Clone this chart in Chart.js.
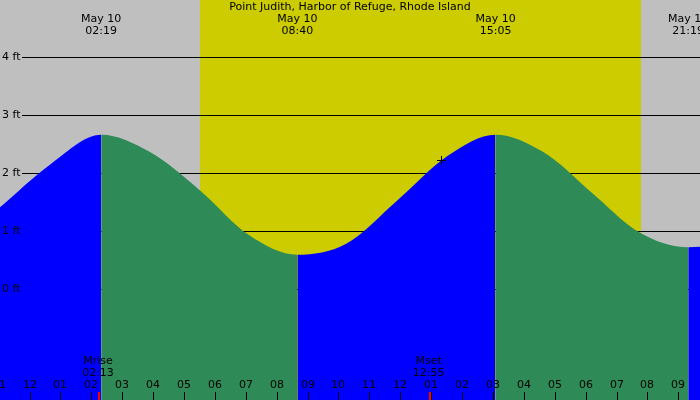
<!DOCTYPE html>
<html><head><meta charset="utf-8">
<script src="https://cdn.jsdelivr.net/npm/chart.js@4"></script>
<style>html,body{margin:0;padding:0;background:#bfbfbf}#w{width:700px;height:400px}</style>
</head><body><div id="w"><canvas id="c"></canvas></div>
<script>
const hours = [-0.955, 0.65, 2.32, 3.9, 5.52, 7.1, 8.67, 10.25, 11.85, 13.55, 15.08, 16.63, 18.18, 19.73, 21.32, 21.7];
const heights = [1.41, 2.14, 2.66, 2.36, 1.70, 0.93, 0.59, 0.78, 1.50, 2.30, 2.66, 2.36, 1.67, 0.98, 0.72, 0.73];
const tideTimes = [2.317, 8.667, 15.083, 21.317];
const tideLabels = ["02:19", "08:40", "15:05", "21:19"];
const tideDates = ["May 10", "May 10", "May 10", "May 10"];
const tickHours = [-1,0,1,2,3,4,5,6,7,8,9,10,11,12,13,14,15,16,17,18,19,20,21];
const tickLabels = ["11","12","01","02","03","04","05","06","07","08","09","10","11","12","01","02","03","04","05","06","07","08","09"];
const ftLevels = [0,1,2,3,4];
const sunrise = 5.52, sunset = 19.79;
const moonEvents = [{name:"Mrise", time:"02:13", h:2.217},{name:"Mset", time:"12:55", h:12.917}];
const title = "Point Judith, Harbor of Refuge, Rhode Island";

const FONT = '11px "DejaVu Sans", sans-serif';
const bg = {
  id:'bg',
  beforeDatasetsDraw(ch){
    const {ctx, chartArea:a, scales:{x,y}} = ch;
    ctx.save();
    ctx.fillStyle='#bfbfbf'; ctx.fillRect(0,0,ch.width,ch.height);
    const x1=x.getPixelForValue(sunrise), x2=x.getPixelForValue(sunset);
    ctx.fillStyle='#cccc00'; ctx.fillRect(x1,0,x2-x1,ch.height);
    ctx.strokeStyle='#000'; ctx.lineWidth=1;
    ftLevels.forEach(v=>{const py=Math.round(y.getPixelForValue(v))+0.5;ctx.beginPath();ctx.moveTo(22,py);ctx.lineTo(ch.width,py);ctx.stroke();});
    ctx.restore();
  },
  afterDatasetsDraw(ch){
    const {ctx, scales:{x,y}} = ch;
    ctx.save();
    ctx.fillStyle='#000'; ctx.font=FONT; ctx.textBaseline='middle';
    ctx.textAlign='left';
    ftLevels.forEach(v=>ctx.fillText(v+' ft',2,y.getPixelForValue(v)));
    ctx.textAlign='center';
    ctx.fillText(title,350,7);
    tideTimes.forEach((t,i)=>{const px=x.getPixelForValue(t);ctx.fillText(tideDates[i],px,19);ctx.fillText(tideLabels[i],px,31);});
    tickHours.forEach((h,i)=>{const px=Math.round(x.getPixelForValue(h));ctx.fillText(tickLabels[i],px,385);
      ctx.fillRect(px,392,1,8);});
    moonEvents.forEach(m=>{const px=x.getPixelForValue(m.h);ctx.fillStyle='#000';ctx.fillText(m.name,px,361);ctx.fillText(m.time,px,373);
      ctx.fillStyle='#ff0000';ctx.fillRect(Math.round(px),392,2,8);ctx.fillStyle='#000';});
    const cx=441, cy=160; ctx.fillRect(cx-4,cy,9,1); ctx.fillRect(cx,cy-4,1,9);
    ctx.restore();
  }
};
new Chart(document.getElementById('c'),{
  type:'line',
  data:{datasets:[{data:hours.map((h,i)=>({x:h,y:heights[i]})),fill:'start',borderWidth:0,pointRadius:0,
    cubicInterpolationMode:'monotone',backgroundColor:'#0000ff',
    segment:{backgroundColor:c=>c.p1.parsed.y>=c.p0.parsed.y?'#0000ff':'#2e8b57'}}]},
  options:{responsive:true,maintainAspectRatio:false,animation:false,
    layout:{padding:0},
    plugins:{legend:{display:false},tooltip:{enabled:false}},
    scales:{x:{type:'linear',min:-0.955,max:21.7,display:false},y:{min:-1.91,max:4.98,display:false}}},
  plugins:[bg]
});
</script></body></html>
